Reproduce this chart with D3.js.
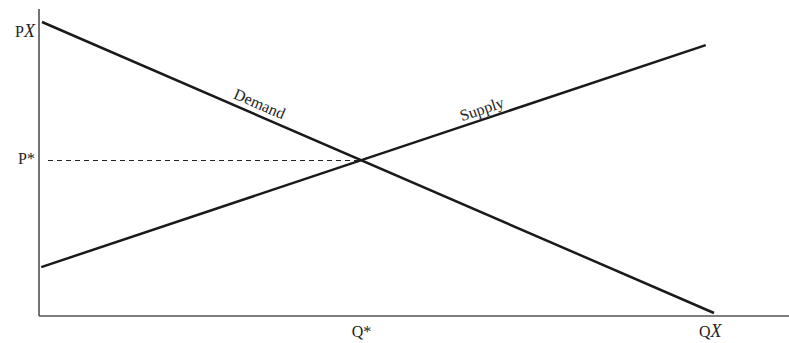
<!DOCTYPE html>
<html><head><meta charset="utf-8">
<script src="https://cdn.jsdelivr.net/npm/d3@7/dist/d3.min.js"></script>
<style>body{margin:0;background:#fff}svg{display:block}text{font-family:"Liberation Serif","DejaVu Serif",serif;fill:#222}</style>
</head><body>
<script>
// Abstract quantity (Q) / price (P) units, 0-100
const demand = [{q:0.4,p:98},{q:90,p:1}];
const supply = [{q:0.3,p:16.3},{q:88.9,p:90.3}];
const equilibrium = {q:43,p:52};
const yLabels = [{text:"P",sub:"X",p:94.3},{text:"P*",sub:"",p:52}];
const xLabels = [{text:"Q*",sub:"",q:43},{text:"Q",sub:"X",q:89.5}];
const curveLabels = [{text:"Demand",series:"demand",t:0.317,off:6},{text:"Supply",series:"supply",t:0.668,off:5}];

const W=789,H=343;
const x=d3.scaleLinear().domain([0,100]).range([39,789]);
const y=d3.scaleLinear().domain([0,100]).range([316,16]);
const svg=d3.select("body").append("svg").attr("width",W).attr("height",H);

// axes
svg.append("line").attr("x1",x(0)).attr("x2",x(0)).attr("y1",y(102.3)).attr("y2",y(0)).attr("stroke","#444").attr("stroke-width",1.5);
svg.append("line").attr("x1",x(0)).attr("x2",x(100)).attr("y1",y(0)).attr("y2",y(0)).attr("stroke","#555").attr("stroke-width",1.5);

// dashed equilibrium price line
svg.append("line").attr("x1",x(1.2)).attr("x2",x(equilibrium.q)).attr("y1",y(equilibrium.p)).attr("y2",y(equilibrium.p))
  .attr("stroke","#222").attr("stroke-width",1).attr("stroke-dasharray","5,4").attr("shape-rendering","crispEdges");

const line=d3.line().x(d=>x(d.q)).y(d=>y(d.p));
const series={demand,supply};
svg.append("path").datum(demand).attr("d",line).attr("fill","none").attr("stroke","#1a1a1a").attr("stroke-width",2.5);
svg.append("path").datum(supply).attr("d",line).attr("fill","none").attr("stroke","#1a1a1a").attr("stroke-width",2.5);

// curve labels
curveLabels.forEach(l=>{
  const s=series[l.series];
  const x0=x(s[0].q),y0=y(s[0].p),x1=x(s[1].q),y1=y(s[1].p);
  const px=x0+(x1-x0)*l.t, py=y0+(y1-y0)*l.t;
  const ang=Math.atan2(y1-y0,x1-x0)*180/Math.PI;
  svg.append("text").attr("transform",`translate(${px},${py}) rotate(${ang}) translate(0,${-l.off})`)
    .attr("text-anchor","middle").attr("font-size",16).text(l.text);
});

// axis labels
yLabels.forEach(l=>{
  const t=svg.append("text").attr("x",x(0)-4).attr("y",y(l.p)+4).attr("text-anchor","end").attr("font-size",16);
  t.append("tspan").text(l.text);
  if(l.sub) t.append("tspan").attr("font-style","italic").attr("font-size",18).text(l.sub);
});
xLabels.forEach(l=>{
  const t=svg.append("text").attr("x",x(l.q)).attr("y",y(0)+21).attr("text-anchor","middle").attr("font-size",16);
  t.append("tspan").text(l.text);
  if(l.sub) t.append("tspan").attr("font-style","italic").attr("font-size",18).text(l.sub);
});
</script>
</body></html>
